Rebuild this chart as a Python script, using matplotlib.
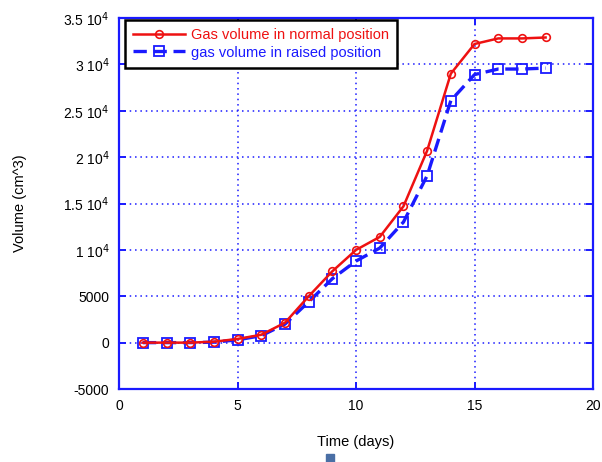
import matplotlib
matplotlib.use("Agg")
import matplotlib.pyplot as plt
from matplotlib.patches import Rectangle
from matplotlib.ticker import FixedLocator, FixedFormatter

plt.rcParams["font.family"] = ["Liberation Sans", "DejaVu Sans"]

# data
days = list(range(1, 19))
normal = [0, 0, 0, 100, 400, 850, 2150, 5000, 7700, 10000, 11400, 14700,
          20700, 29000, 32200, 32800, 32800, 32900]
raised = [0, 0, 0, 50, 300, 750, 2000, 4400, 6900, 8800, 10200, 13000,
          18000, 26100, 28900, 29500, 29500, 29600]

yticks = [-5000, 0, 5000, 10000, 15000, 20000, 25000, 30000, 35000]
ylabels = ["-5000", "0", "5000", r"1 10$^4$", r"1.5 10$^4$", r"2 10$^4$",
           r"2.5 10$^4$", r"3 10$^4$", r"3.5 10$^4$"]
xticks = [0, 5, 10, 15, 20]

BLUE = "#1a1aff"
RED = "#ee1111"

fig = plt.figure(figsize=(6.02, 4.62), dpi=100)
ax = fig.add_axes([0.198, 0.158, 0.787, 0.803])

ax.plot(days, normal, color=RED, lw=1.8, marker="o", ms=5.5, mfc="none",
        mec=RED, mew=1.2, label="Gas volume in normal position", zorder=4)
ax.plot(days, raised, color=BLUE, lw=2.4, ls=(0, (4, 2)), marker="s", ms=7.5,
        mfc="none", mec=BLUE, mew=1.3, label="gas volume in raised position",
        zorder=3)

ax.set_xlim(0, 20)
ax.set_ylim(-5000, 35000)
ax.xaxis.set_major_locator(FixedLocator(xticks))
ax.yaxis.set_major_locator(FixedLocator(yticks))
ax.yaxis.set_major_formatter(FixedFormatter(ylabels))
ax.grid(True, color=BLUE, ls=(0, (1, 2.5)), lw=1.1)
for s in ax.spines.values():
    s.set_color(BLUE)
    s.set_linewidth(1.6)
ax.tick_params(direction="in", color=BLUE, width=1.4, length=5,
               top=True, right=True, labelsize=10, pad=7)

ax.set_xlabel("Time (days)", fontsize=10.5, labelpad=16)
ax.set_ylabel("Volume (cm^3)", fontsize=10.5, labelpad=26)

leg = ax.legend(loc="upper left", bbox_to_anchor=(0.012, 0.995), fontsize=10.5,
                fancybox=False, framealpha=1, edgecolor="black",
                handlelength=3.6, borderaxespad=0, borderpad=0.55,
                labelspacing=0.25, handletextpad=0.4)
leg.get_frame().set_linewidth(1.8)
leg.get_texts()[0].set_color(RED)
leg.get_texts()[1].set_color(BLUE)

# small marker under the x label
fig.patches.append(Rectangle((0.542, 0.0), 0.013, 0.017, transform=fig.transFigure,
                             color="#4a6fa5", figure=fig))

fig.savefig("out.png", dpi=100)
